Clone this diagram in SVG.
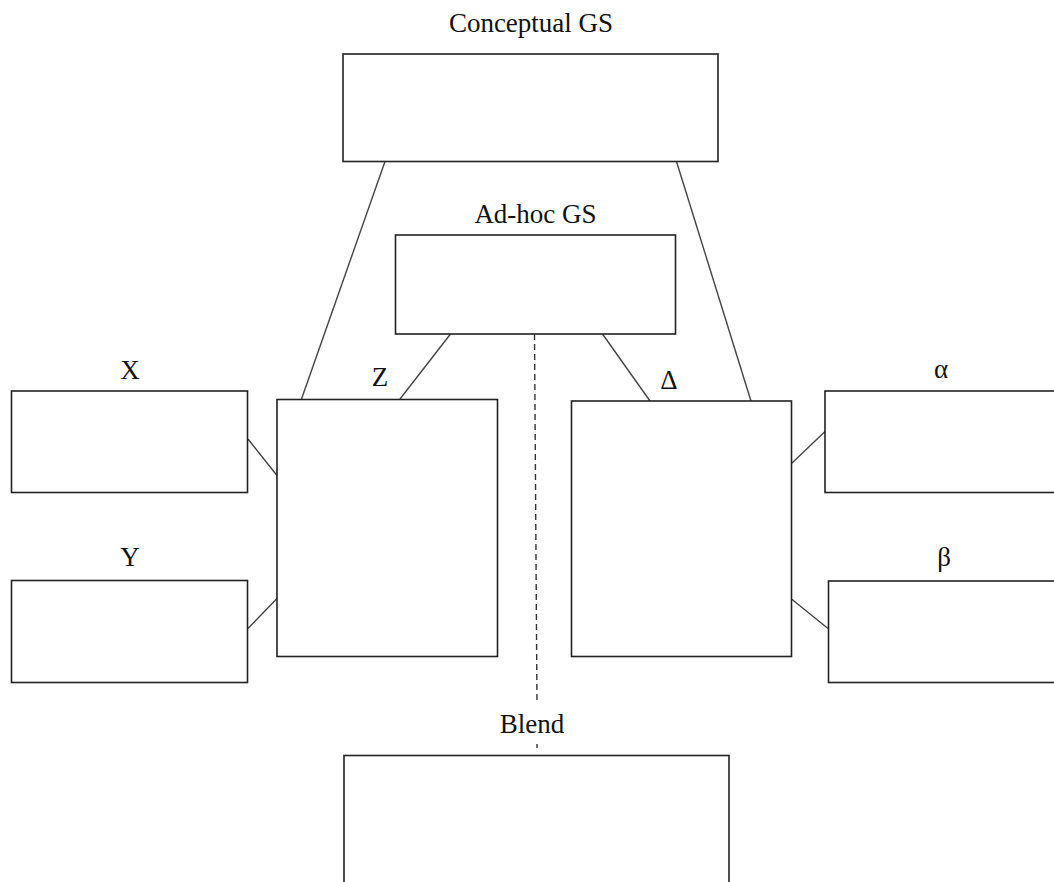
<svg xmlns="http://www.w3.org/2000/svg" width="1054" height="882" viewBox="0 0 1054 882">
  <style>
    .box { fill: #ffffff; stroke: #222222; stroke-width: 1.6; }
    .link { stroke: #444444; stroke-width: 1.4; fill: none; }
    .dash { stroke: #333333; stroke-width: 1.4; stroke-dasharray: 6 4; fill: none; }
    .label { font-family: "Liberation Serif", "Times New Roman", serif; font-size: 27px; fill: #111111; text-anchor: middle; }
  </style>
  <rect width="1054" height="882" fill="#ffffff"/>

  <!-- connectors -->
  <g id="connectors">
    <line class="link" x1="385" y1="161.5" x2="301.5" y2="399"/>
    <line class="link" x1="676.5" y1="161.5" x2="751" y2="401"/>
    <line class="link" x1="450.5" y1="334" x2="400" y2="399"/>
    <line class="link" x1="602.5" y1="334" x2="650" y2="401"/>
    <line class="link" x1="248" y1="439" x2="277" y2="475.5"/>
    <line class="link" x1="248" y1="628.5" x2="277" y2="598.5"/>
    <line class="link" x1="791.5" y1="463.5" x2="825" y2="431.5"/>
    <line class="link" x1="791.5" y1="599" x2="828" y2="628.5"/>
    <line class="dash" x1="534.5" y1="334" x2="537" y2="704"/>
    <line class="dash" x1="537" y1="744" x2="537" y2="748"/>
  </g>

  <g id="conceptual-gs">
    <rect class="box" x="343" y="54" width="375" height="107.5"/>
    <text class="label" x="531" y="32">Conceptual GS</text>
  </g>

  <g id="ad-hoc-gs">
    <rect class="box" x="395.5" y="235" width="280" height="99"/>
    <text class="label" x="535.5" y="223">Ad-hoc GS</text>
  </g>

  <g id="node-x">
    <rect class="box" x="11.5" y="391" width="236" height="101.5"/>
    <text class="label" x="130" y="379">X</text>
  </g>

  <g id="node-y">
    <rect class="box" x="11.5" y="580.5" width="236" height="102"/>
    <text class="label" x="130" y="566">Y</text>
  </g>

  <g id="node-z">
    <rect class="box" x="277" y="399.5" width="220.5" height="257"/>
    <text class="label" x="380" y="386">Z</text>
  </g>

  <g id="node-delta">
    <rect class="box" x="571.5" y="401" width="220" height="255.5"/>
    <text class="label" x="669" y="389">Δ</text>
  </g>

  <g id="node-alpha">
    <rect class="box" x="825" y="391" width="260" height="101.5"/>
    <text class="label" x="941" y="378">α</text>
  </g>

  <g id="node-beta">
    <rect class="box" x="828.5" y="581" width="260" height="101.5"/>
    <text class="label" x="944" y="566">β</text>
  </g>

  <g id="blend">
    <rect class="box" x="344" y="755.5" width="385" height="200"/>
    <text class="label" x="532" y="733">Blend</text>
  </g>
</svg>
